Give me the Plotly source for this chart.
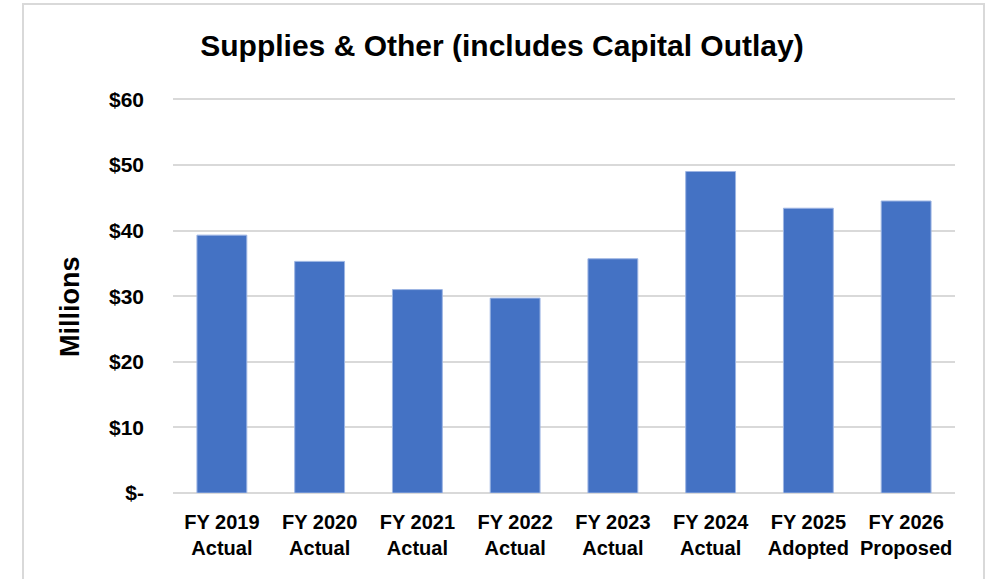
import plotly.graph_objects as go

categories = [
    "FY 2019<br>Actual",
    "FY 2020<br>Actual",
    "FY 2021<br>Actual",
    "FY 2022<br>Actual",
    "FY 2023<br>Actual",
    "FY 2024<br>Actual",
    "FY 2025<br>Adopted",
    "FY 2026<br>Proposed",
]
values = [39.3, 35.3, 31.0, 29.7, 35.7, 49.0, 43.4, 44.5]

tick_vals = [0, 10, 20, 30, 40, 50, 60]
tick_text = ["$-", "$10", "$20", "$30", "$40", "$50", "$60"]

FONT = "Liberation Sans, Arial, sans-serif"

W, H = 987, 579
plot_x0, plot_x1 = 173, 955
plot_y0, plot_y1 = 98, 493
L, R, T, B = plot_x0, W - plot_x1, plot_y0, H - plot_y1
pw, ph = plot_x1 - plot_x0, plot_y1 - plot_y0


def px_x(x):
    return (x - plot_x0) / pw


def px_y(y):
    return (plot_y1 - y) / ph


fig = go.Figure(
    go.Bar(
        x=categories,
        y=values,
        marker=dict(color="#4472C4", line=dict(color="#9DB5E3", width=1)),
        hoverinfo="x+y",
    )
)

# light frame around the chart area
fig.add_shape(
    type="rect",
    xref="paper", yref="paper",
    x0=px_x(23), x1=px_x(984),
    y0=px_y(640), y1=px_y(4),
    line=dict(color="#d9d9d9", width=2),
    layer="below",
)

fig.add_annotation(
    xref="paper", yref="paper",
    x=px_x(70), y=px_y(307),
    xanchor="center", yanchor="middle",
    text="<b>Millions</b>",
    textangle=-90,
    showarrow=False,
    font=dict(family=FONT, size=27, color="black"),
)

fig.update_xaxes(
    showgrid=False,
    showline=False,
    ticks="",
    ticklabelstandoff=15,
    tickfont=dict(family=FONT, size=20, color="black", weight="bold"),
)

fig.update_yaxes(
    range=[0, 60.2],
    tickmode="array",
    tickvals=tick_vals,
    ticktext=tick_text,
    showgrid=True,
    gridcolor="#d9d9d9",
    gridwidth=2,
    zeroline=True,
    zerolinecolor="#d9d9d9",
    zerolinewidth=2,
    ticklabelstandoff=28,
    tickfont=dict(family=FONT, size=21, color="black", weight="bold"),
)

fig.update_layout(
    width=W,
    height=H,
    margin=dict(l=L, r=R, t=T, b=B),
    bargap=0.49,
    plot_bgcolor="white",
    paper_bgcolor="white",
    showlegend=False,
    title=dict(
        text="<b>Supplies & Other (includes Capital Outlay)</b>",
        x=502 / W,
        xanchor="center",
        y=1 - 45 / H,
        yanchor="middle",
        font=dict(family=FONT, size=30, color="black"),
    ),
)

# drop the default 8px body margin so the figure fills the window exactly
fig.write_html(
    "out.html",
    config={"displayModeBar": False},
    post_script="document.body.style.margin='0';document.body.style.overflow='hidden';",
)
